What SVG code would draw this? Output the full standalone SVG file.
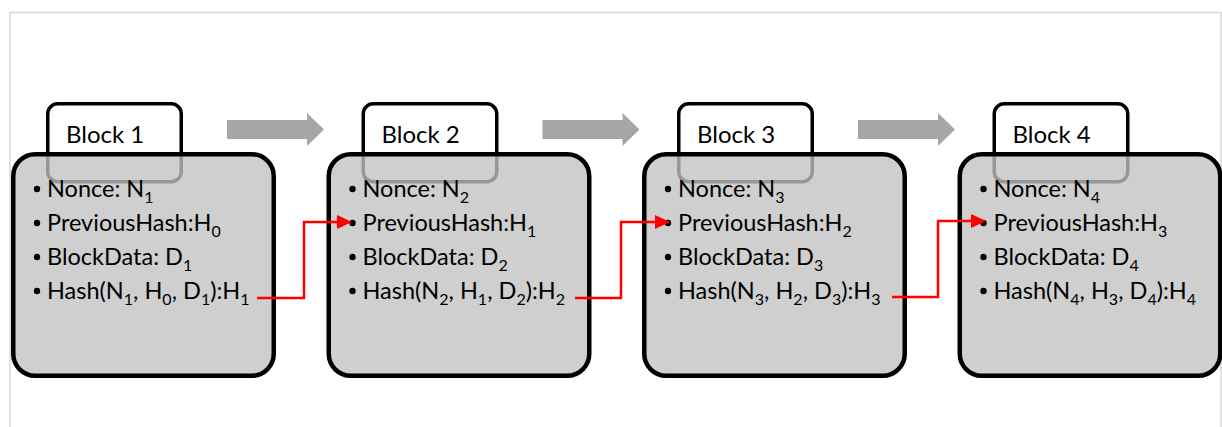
<svg xmlns="http://www.w3.org/2000/svg" width="1222" height="427" viewBox="0 0 1222 427">
  <style>
    .frame { fill: none; stroke: #d9d9d9; stroke-width: 1.5; }
    .tab { fill: #ffffff; stroke: #000000; stroke-width: 3.5; }
    .box { fill: #c2c2c2; fill-opacity: 0.78; stroke: #000000; stroke-width: 4.5; }
    .title { font-family: Lato, "Liberation Sans", sans-serif; font-size: 24px; fill: #000000; }
    .item { font-family: Lato, "Liberation Sans", sans-serif; font-size: 23.5px; fill: #000000; }
    .sub { font-size: 16px; }
    .bullet { fill: #000000; }
    .flow { fill: #a6a6a6; }
    .link { fill: none; stroke: #ff0000; stroke-width: 2.5; }
    .head { fill: #ff0000; }
  </style>
  <defs>
    <!-- gray block arrow pointing right, origin at tail / top of head -->
    <path id="flowArrow" d="M0,7 H80 V0 L97,16.5 L80,33 V26 H0 Z"/>
    <!-- red arrowhead, tip at origin -->
    <path id="redHead" d="M0,0 L-15,-7 L-15,7 Z"/>
  </defs>

  <!-- page frame -->
  <path class="frame" d="M10,427 V12.5 H1221 V427"/>

  <!-- block 1 -->
  <g id="block1" transform="translate(11,0)">
    <rect class="tab" x="36.75" y="103.75" width="133.5" height="78" rx="10"/>
    <text class="title" x="55" y="143">Block 1</text>
    <rect class="box" x="2.25" y="154.25" width="260.5" height="221.5" rx="22"/>
    <circle class="bullet" cx="26" cy="189" r="3.2"/>
    <circle class="bullet" cx="26" cy="223" r="3.2"/>
    <circle class="bullet" cx="26" cy="257" r="3.2"/>
    <circle class="bullet" cx="26" cy="291" r="3.2"/>
    <text class="item" x="36" y="197">Nonce: N<tspan class="sub" dy="6">1</tspan></text>
    <text class="item" x="36" y="231">PreviousHash:H<tspan class="sub" dy="6">0</tspan></text>
    <text class="item" x="36" y="265">BlockData: D<tspan class="sub" dy="6">1</tspan></text>
    <text class="item" x="36" y="299">Hash(N<tspan class="sub" dy="6">1</tspan><tspan dy="-6">, H</tspan><tspan class="sub" dy="6">0</tspan><tspan dy="-6">, D</tspan><tspan class="sub" dy="6">1</tspan><tspan dy="-6">):H</tspan><tspan class="sub" dy="6">1</tspan></text>
  </g>

  <!-- block 2 -->
  <g id="block2" transform="translate(326.5,0)">
    <rect class="tab" x="36.75" y="103.75" width="133.5" height="78" rx="10"/>
    <text class="title" x="55" y="143">Block 2</text>
    <rect class="box" x="2.25" y="154.25" width="260.5" height="221.5" rx="22"/>
    <circle class="bullet" cx="26" cy="189" r="3.2"/>
    <circle class="bullet" cx="26" cy="223" r="3.2"/>
    <circle class="bullet" cx="26" cy="257" r="3.2"/>
    <circle class="bullet" cx="26" cy="291" r="3.2"/>
    <text class="item" x="36" y="197">Nonce: N<tspan class="sub" dy="6">2</tspan></text>
    <text class="item" x="36" y="231">PreviousHash:H<tspan class="sub" dy="6">1</tspan></text>
    <text class="item" x="36" y="265">BlockData: D<tspan class="sub" dy="6">2</tspan></text>
    <text class="item" x="36" y="299">Hash(N<tspan class="sub" dy="6">2</tspan><tspan dy="-6">, H</tspan><tspan class="sub" dy="6">1</tspan><tspan dy="-6">, D</tspan><tspan class="sub" dy="6">2</tspan><tspan dy="-6">):H</tspan><tspan class="sub" dy="6">2</tspan></text>
  </g>

  <!-- block 3 -->
  <g id="block3" transform="translate(642,0)">
    <rect class="tab" x="36.75" y="103.75" width="133.5" height="78" rx="10"/>
    <text class="title" x="55" y="143">Block 3</text>
    <rect class="box" x="2.25" y="154.25" width="260.5" height="221.5" rx="22"/>
    <circle class="bullet" cx="26" cy="189" r="3.2"/>
    <circle class="bullet" cx="26" cy="223" r="3.2"/>
    <circle class="bullet" cx="26" cy="257" r="3.2"/>
    <circle class="bullet" cx="26" cy="291" r="3.2"/>
    <text class="item" x="36" y="197">Nonce: N<tspan class="sub" dy="6">3</tspan></text>
    <text class="item" x="36" y="231">PreviousHash:H<tspan class="sub" dy="6">2</tspan></text>
    <text class="item" x="36" y="265">BlockData: D<tspan class="sub" dy="6">3</tspan></text>
    <text class="item" x="36" y="299">Hash(N<tspan class="sub" dy="6">3</tspan><tspan dy="-6">, H</tspan><tspan class="sub" dy="6">2</tspan><tspan dy="-6">, D</tspan><tspan class="sub" dy="6">3</tspan><tspan dy="-6">):H</tspan><tspan class="sub" dy="6">3</tspan></text>
  </g>

  <!-- block 4 -->
  <g id="block4" transform="translate(957.5,0)">
    <rect class="tab" x="36.75" y="103.75" width="133.5" height="78" rx="10"/>
    <text class="title" x="55" y="143">Block 4</text>
    <rect class="box" x="2.25" y="154.25" width="260.5" height="221.5" rx="22"/>
    <circle class="bullet" cx="26" cy="189" r="3.2"/>
    <circle class="bullet" cx="26" cy="223" r="3.2"/>
    <circle class="bullet" cx="26" cy="257" r="3.2"/>
    <circle class="bullet" cx="26" cy="291" r="3.2"/>
    <text class="item" x="36" y="197">Nonce: N<tspan class="sub" dy="6">4</tspan></text>
    <text class="item" x="36" y="231">PreviousHash:H<tspan class="sub" dy="6">3</tspan></text>
    <text class="item" x="36" y="265">BlockData: D<tspan class="sub" dy="6">4</tspan></text>
    <text class="item" x="36" y="299">Hash(N<tspan class="sub" dy="6">4</tspan><tspan dy="-6">, H</tspan><tspan class="sub" dy="6">3</tspan><tspan dy="-6">, D</tspan><tspan class="sub" dy="6">4</tspan><tspan dy="-6">):H</tspan><tspan class="sub" dy="6">4</tspan></text>
  </g>

  <!-- connectors -->
  <g id="connectors">
    <use href="#flowArrow" class="flow" x="227" y="113"/>
    <use href="#flowArrow" class="flow" x="542.5" y="113"/>
    <use href="#flowArrow" class="flow" x="858" y="113"/>
    <path class="link" d="M257,298 H304 V222 H340"/>
    <use href="#redHead" class="head" x="352" y="222"/>
    <path class="link" d="M575,298 H621 V222 H658"/>
    <use href="#redHead" class="head" x="670" y="222"/>
    <path class="link" d="M892,297 H938 V221 H974"/>
    <use href="#redHead" class="head" x="986" y="221"/>
  </g>
</svg>
